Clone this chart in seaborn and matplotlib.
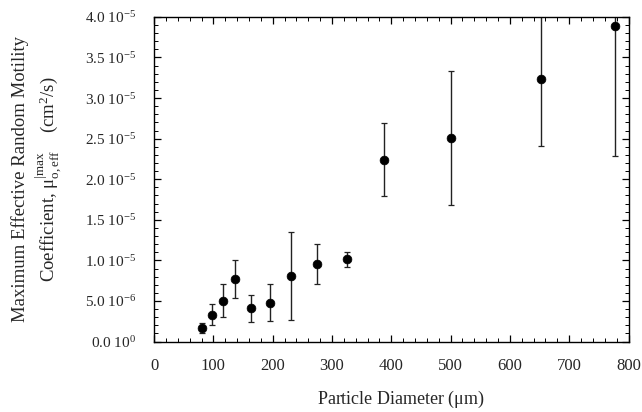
# plot.py
#
# Max effective random motility coefficient vs particle diameter
# - scatter of means (seaborn) with asymmetric error bars

import numpy as np
import pandas as pd
import matplotlib
matplotlib.use("Agg")
import matplotlib.pyplot as plt
import seaborn as sns
from matplotlib.ticker import MultipleLocator, FixedLocator

# ---------- Data ----------

diameter = [81, 97, 116, 137, 164, 195, 231, 275, 326, 388, 501, 653, 777]
motility = [1.64e-6, 3.28e-6, 5.04e-6, 7.67e-6, 4.10e-6, 4.72e-6, 8.12e-6,
            9.52e-6, 10.13e-6, 22.35e-6, 25.06e-6, 32.4e-6, 38.9e-6]
err_low = [1.03e-6, 2.05e-6, 3.08e-6, 5.33e-6, 2.46e-6, 2.54e-6, 2.67e-6,
           7.05e-6, 9.19e-6, 17.9e-6, 16.86e-6, 24.1e-6, 22.9e-6]
err_high = [2.34e-6, 4.59e-6, 7.05e-6, 10.0e-6, 5.74e-6, 7.05e-6, 13.5e-6,
            11.98e-6, 11.07e-6, 26.9e-6, 33.3e-6, 40.7e-6, 54.9e-6]

ytick_vals = [0, 5e-6, 1e-5, 1.5e-5, 2e-5, 2.5e-5, 3e-5, 3.5e-5, 4e-5]
ytick_labels = [r"0.0 10$^{0}$", r"5.0 10$^{-6}$", r"1.0 10$^{-5}$",
                r"1.5 10$^{-5}$", r"2.0 10$^{-5}$", r"2.5 10$^{-5}$",
                r"3.0 10$^{-5}$", r"3.5 10$^{-5}$", r"4.0 10$^{-5}$"]

df = pd.DataFrame({"diameter": diameter, "motility": motility,
                   "lo": err_low, "hi": err_high})

# ---------- Style ----------

sns.set_style("ticks")
plt.rcParams["font.family"] = ["Liberation Serif", "DejaVu Serif"]
plt.rcParams["mathtext.fontset"] = "custom"
plt.rcParams["mathtext.rm"] = "Liberation Serif"
plt.rcParams["mathtext.it"] = "Liberation Serif:italic"
plt.rcParams["mathtext.bf"] = "Liberation Serif:bold"
plt.rcParams["axes.edgecolor"] = "black"
plt.rcParams["axes.linewidth"] = 1.0

fig, ax = plt.subplots(figsize=(6.42, 4.12), dpi=100)
fig.subplots_adjust(left=0.24, right=0.979, top=0.959, bottom=0.171)

# error bars first, then the points on top
ax.errorbar(df["diameter"], df["motility"],
            yerr=[df["motility"] - df["lo"], df["hi"] - df["motility"]],
            fmt="none", ecolor="#222222", elinewidth=1.0, capsize=2.5,
            capthick=0.9, zorder=2)
sns.scatterplot(data=df, x="diameter", y="motility", ax=ax,
                color="black", s=40, edgecolor="black", linewidth=0.5,
                zorder=3, clip_on=False, legend=False)

ax.set_xlim(0, 800)
ax.set_ylim(0, 4e-5)
ax.xaxis.set_major_locator(MultipleLocator(100))
ax.xaxis.set_minor_locator(MultipleLocator(20))
ax.yaxis.set_major_locator(FixedLocator(ytick_vals))
ax.yaxis.set_minor_locator(MultipleLocator(1e-6))
ax.set_yticklabels(ytick_labels)

ax.tick_params(which="both", direction="in", top=True, right=True,
               color="black")
ax.tick_params(which="major", length=5, width=0.9)
ax.tick_params(which="minor", length=3, width=0.7)
ax.tick_params(axis="x", which="major", pad=12, labelsize=12)
ax.tick_params(axis="y", which="major", pad=13, labelsize=11)

ax.set_xlabel(r"Particle Diameter ($\mathrm{\mu}$m)", fontsize=13)
ax.xaxis.set_label_coords(0.52, -0.145)
ax.set_ylabel("Maximum Effective Random Motility\n"
              r"Coefficient, $\mathrm{\mu}^{|\mathrm{max}}_{\mathrm{o,eff}}$"
              r"    (cm$^{2}$/s)",
              fontsize=13.5, linespacing=1.2)
ax.yaxis.set_label_coords(-0.19, 0.5)

plt.savefig("out.png", dpi=100)
